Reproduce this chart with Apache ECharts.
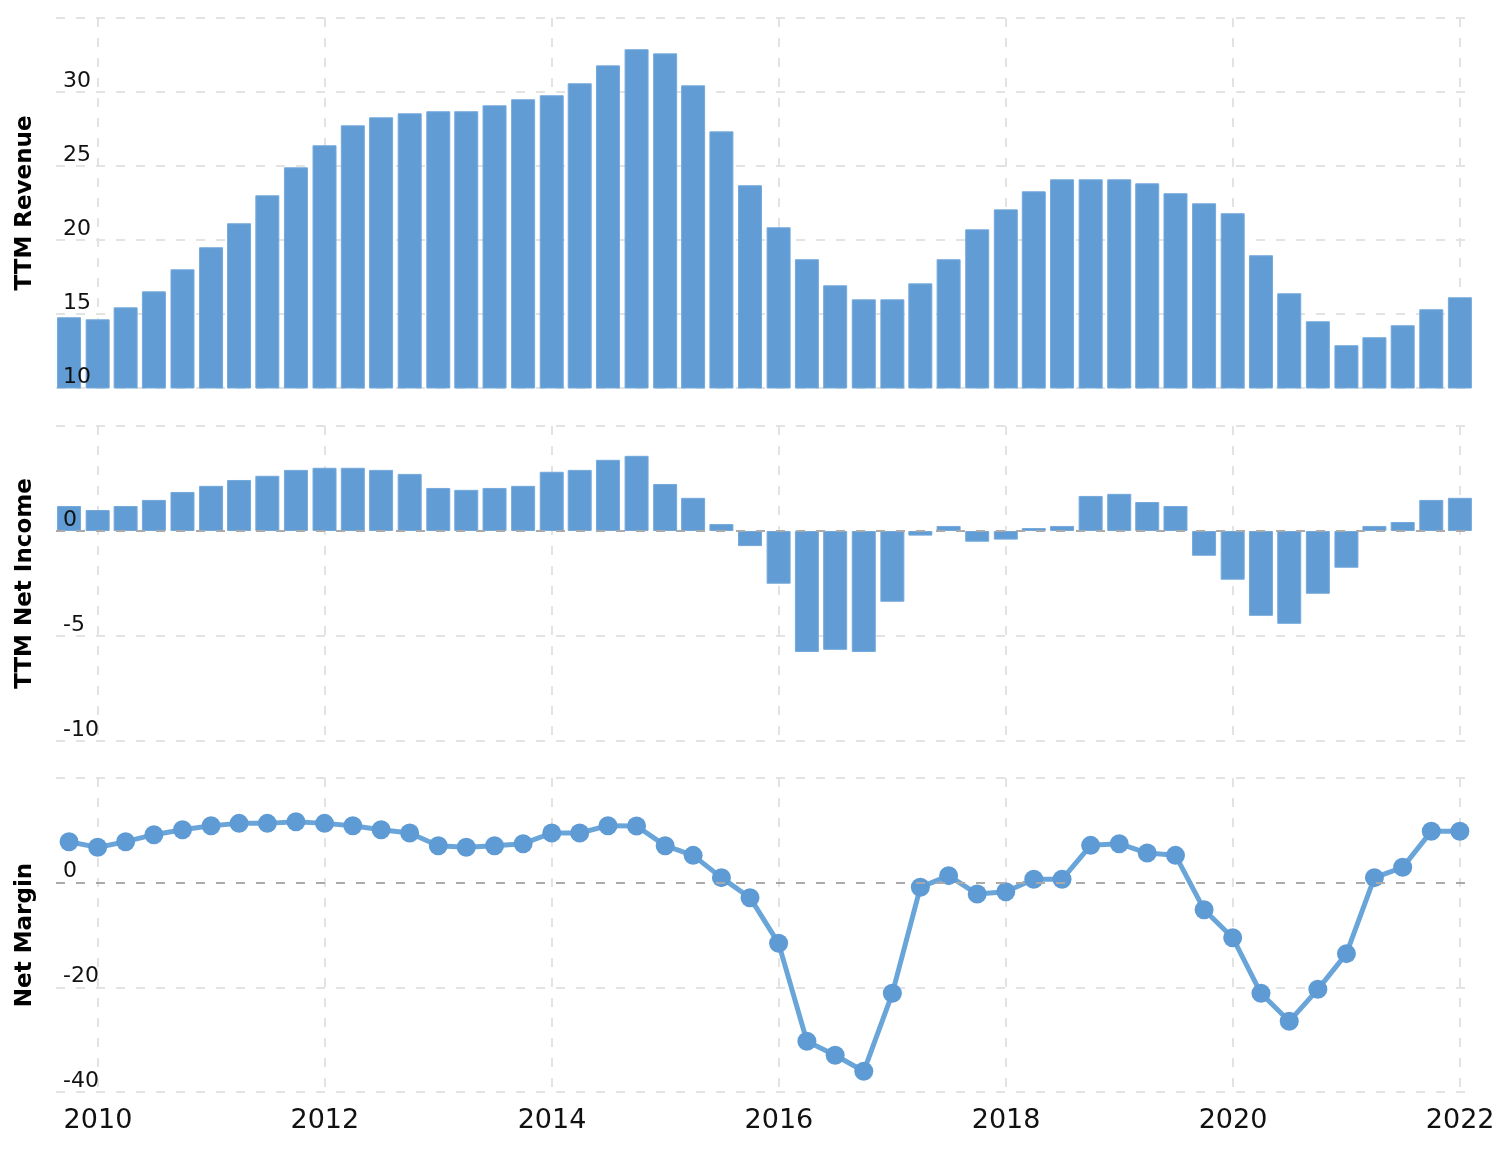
<!DOCTYPE html>
<html>
<head>
<meta charset="utf-8">
<script src="https://cdn.jsdelivr.net/npm/echarts@6/dist/echarts.min.js"></script>
<style>
  html, body { margin: 0; padding: 0; background: #fff; }
  #chart { width: 1506px; height: 1164px; }
</style>
</head>
<body>
<div id="chart"></div>
<script>
// Quarter-end dates
const quarters = [
  '2009-09-30','2009-12-31',
  '2010-03-31','2010-06-30','2010-09-30','2010-12-31',
  '2011-03-31','2011-06-30','2011-09-30','2011-12-31',
  '2012-03-31','2012-06-30','2012-09-30','2012-12-31',
  '2013-03-31','2013-06-30','2013-09-30','2013-12-31',
  '2014-03-31','2014-06-30','2014-09-30','2014-12-31',
  '2015-03-31','2015-06-30','2015-09-30','2015-12-31',
  '2016-03-31','2016-06-30','2016-09-30','2016-12-31',
  '2017-03-31','2017-06-30','2017-09-30','2017-12-31',
  '2018-03-31','2018-06-30','2018-09-30','2018-12-31',
  '2019-03-31','2019-06-30','2019-09-30','2019-12-31',
  '2020-03-31','2020-06-30','2020-09-30','2020-12-31',
  '2021-03-31','2021-06-30','2021-09-30','2021-12-31'
];

// TTM Revenue (billions)
const revenue = [
  14.78, 14.64, 15.45, 16.53, 18.02, 19.51, 21.13, 23.02, 24.91, 26.40,
  27.75, 28.29, 28.56, 28.70, 28.70, 29.10, 29.51, 29.78, 30.59, 31.80,
  32.89, 32.61, 30.45, 27.34, 23.70, 20.86, 18.70, 16.94, 15.99, 15.99,
  17.07, 18.70, 20.72, 22.07, 23.29, 24.10, 24.10, 24.10, 23.83, 23.16,
  22.48, 21.81, 18.97, 16.40, 14.51, 12.89, 13.43, 14.24, 15.32, 16.13
];

// TTM Net Income (billions)
const netIncome = [
  1.19, 1.00, 1.19, 1.48, 1.86, 2.15, 2.43, 2.63, 2.91, 3.01,
  3.01, 2.91, 2.72, 2.05, 1.96, 2.05, 2.15, 2.82, 2.91, 3.39,
  3.58, 2.24, 1.58, 0.33, -0.72, -2.51, -5.76, -5.66, -5.76, -3.37,
  -0.22, 0.24, -0.51, -0.41, 0.14, 0.24, 1.67, 1.77, 1.38, 1.19,
  -1.18, -2.32, -4.04, -4.42, -2.99, -1.75, 0.24, 0.43, 1.48, 1.58
];

// Net Margin (%)
const netMargin = [
  7.83, 6.75, 7.83, 9.17, 10.12, 10.89, 11.33, 11.33, 11.65, 11.33,
  10.89, 10.12, 9.49, 7.07, 6.75, 7.07, 7.45, 9.49, 9.49, 10.89,
  10.82, 7.07, 5.22, 0.96, -2.87, -11.59, -30.31, -32.98, -36.04, -21.14,
  -0.89, 1.34, -2.17, -1.72, 0.64, 0.64, 7.13, 7.45, 5.66, 5.22,
  -5.16, -10.51, -21.14, -26.49, -20.38, -13.56, 0.96, 2.93, 9.81, 9.81
];

// x-axis tick labels (years)
const yearTicks = ['2010', '2012', '2014', '2016', '2018', '2020', '2022'];

const ts = s => Date.parse(s + 'T00:00:00Z');
const tickValues = yearTicks.map(y => ts(y + '-01-01'));
const xMin = ts('2009-08-19');
const xMax = ts('2022-02-08');

const FONT = 'DejaVu Sans, Verdana, sans-serif';
const gridColor = '#e3e3e3';
const dash = [9, 11];
const barColor = '#619dd4';
const barBorder = '#74a9dc';

function pair(vals) { return quarters.map((q, i) => [ts(q), vals[i]]); }

function makeX(idx, showLabel) {
  return {
    type: 'value', gridIndex: idx, min: xMin, max: xMax,
    axisLine: { show: false },
    axisTick: { show: false, customValues: tickValues },
    axisLabel: {
      show: showLabel, customValues: tickValues,
      formatter: v => String(new Date(v).getUTCFullYear()),
      fontFamily: FONT, fontSize: 27, color: '#111', margin: 15
    },
    splitLine: { show: true, lineStyle: { color: gridColor, width: 2, type: dash } }
  };
}

// grid axis: gridlines + title (below the marks)
function makeY(idx, name, min, max, interval) {
  return {
    type: 'value', gridIndex: idx, position: 'left', min: min, max: max, interval: interval,
    name: name, nameLocation: 'middle', nameGap: 19,
    nameTextStyle: { fontFamily: FONT, fontWeight: 'bold', fontSize: 23, color: '#000' },
    axisLine: { show: false }, axisTick: { show: false },
    axisLabel: { show: false },
    splitLine: { show: true, lineStyle: { color: gridColor, width: 2, type: dash } }
  };
}

// label axis: tick labels drawn above the marks
function makeYLabels(idx, min, max, interval) {
  return {
    type: 'value', gridIndex: idx, position: 'left', min: min, max: max, interval: interval,
    z: 10,
    axisLine: { show: false }, axisTick: { show: false },
    splitLine: { show: false },
    axisLabel: {
      inside: true, margin: 7, showMaxLabel: false, verticalAlign: 'bottom',
      fontFamily: FONT, fontSize: 22, color: '#111'
    }
  };
}

const zeroLine = {
  silent: true, symbol: 'none', label: { show: false },
  lineStyle: { color: '#aaaaaa', width: 2, type: dash },
  data: [{ yAxis: 0 }]
};

const option = {
  animation: false,
  backgroundColor: '#ffffff',
  grid: [
    { left: 56, right: 34, top: 18, height: 370 },
    { left: 56, right: 34, top: 426, height: 315 },
    { left: 56, right: 34, top: 778, height: 314 }
  ],
  xAxis: [makeX(0, false), makeX(1, false), makeX(2, true)],
  yAxis: [
    makeY(0, 'TTM Revenue', 10, 35, 5),
    makeY(1, 'TTM Net Income', -10, 5, 5),
    makeY(2, 'Net Margin', -40, 20, 20),
    makeYLabels(0, 10, 35, 5),
    makeYLabels(1, -10, 5, 5),
    makeYLabels(2, -40, 20, 20)
  ],
  series: [
    {
      type: 'bar', xAxisIndex: 0, yAxisIndex: 0, data: pair(revenue),
      barWidth: 24,
      itemStyle: { color: barColor, borderColor: barBorder, borderWidth: 1 }
    },
    {
      type: 'bar', xAxisIndex: 1, yAxisIndex: 1, data: pair(netIncome),
      barWidth: 24,
      itemStyle: { color: barColor, borderColor: barBorder, borderWidth: 1 },
      markLine: zeroLine
    },
    {
      type: 'line', xAxisIndex: 2, yAxisIndex: 2, data: pair(netMargin),
      symbol: 'circle', symbolSize: 19, showAllSymbol: true,
      lineStyle: { color: '#6aa5da', width: 5 },
      itemStyle: { color: '#5e9bd4' },
      markLine: zeroLine
    }
  ]
};

const chart = echarts.init(document.getElementById('chart'), null, { renderer: 'canvas' });
chart.setOption(option);
</script>
</body>
</html>
